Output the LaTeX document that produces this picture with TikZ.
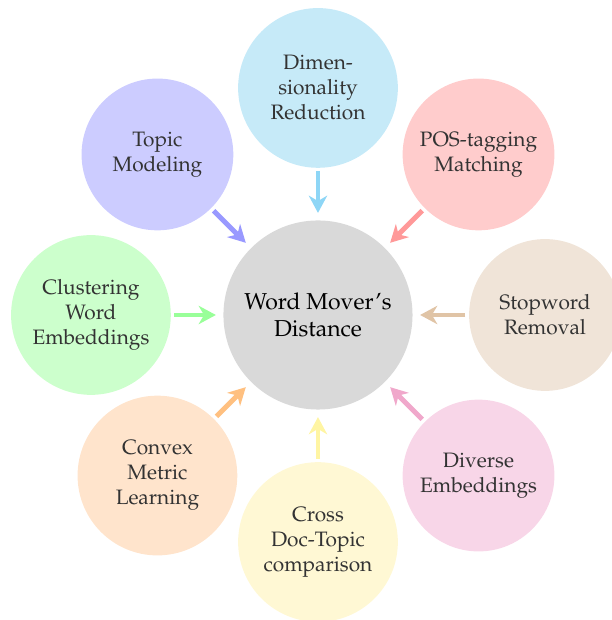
\documentclass[tikz,border=0pt]{standalone}
\usepackage[T1]{fontenc}
\usepackage{mathpazo}
\usetikzlibrary{arrows.meta}
\definecolor{dimfill}{HTML}{C6EAF8}
\definecolor{dimline}{HTML}{8ED6F6}
\definecolor{posfill}{HTML}{FFCCCC}
\definecolor{posline}{HTML}{FF9999}
\definecolor{stopfill}{HTML}{F0E4D8}
\definecolor{stopline}{HTML}{E0C4A6}
\definecolor{divfill}{HTML}{F8D6E8}
\definecolor{divline}{HTML}{F0A8CB}
\definecolor{crossfill}{HTML}{FFF8D4}
\definecolor{crossline}{HTML}{FFF5A3}
\definecolor{convfill}{HTML}{FFE4CC}
\definecolor{convline}{HTML}{FFC080}
\definecolor{clusfill}{HTML}{CCFFCC}
\definecolor{clusline}{HTML}{99FF99}
\definecolor{topfill}{HTML}{CCCCFF}
\definecolor{topline}{HTML}{9999FF}
\begin{document}
\begin{tikzpicture}[
  hub/.style={circle, fill=gray!30, minimum size=3.09cm, inner sep=0pt, align=center, text=black,
    font=\fontsize{10.7}{12.4}\selectfont},
  sat/.style={circle, minimum size=2.61cm, inner sep=0pt, align=center, text=black!80,
    font=\fontsize{9.7}{11.6}\selectfont},
  satsm/.style={sat, minimum size=2.48cm},
  arr/.style={line width=2.3pt, -{Stealth[length=8pt,width=8.5pt,inset=2.5pt]}, shorten <=1.5pt, shorten >=3.3pt}]
\useasboundingbox (-5.196,-4.984) rectangle (4.804,5.147);
% hub
\node [hub] (wmd) at (0,0) {Word Mover's\\Distance};

% satellites
\node [sat, fill=dimfill] (dim) at (90:3.71) {Dimen-\\sionality\\Reduction};
\node [satsm, fill=posfill] (pos) at (45:3.71) {POS-tagging\\Matching};
\node [satsm, fill=stopfill] (stop) at (0:3.71) {Stopword\\Removal};
\node [satsm, fill=divfill] (div) at (-45:3.71) {Diverse\\Embeddings};
\node [sat, fill=crossfill] (cross) at (-90:3.71) {Cross\\Doc-Topic\\comparison};
\node [sat, fill=convfill] (conv) at (-135:3.71) {Convex\\Metric\\Learning};
\node [sat, fill=clusfill] (clus) at (180:3.71) {Clustering\\Word\\Embeddings};
\node [satsm, fill=topfill] (topic) at (135:3.71) {Topic\\Modeling};

% arrows
\draw [arr, dimline] (dim) -- (wmd);
\draw [arr, posline] (pos) -- (wmd);
\draw [arr, stopline] (stop) -- (wmd);
\draw [arr, divline] (div) -- (wmd);
\draw [arr, crossline] (cross) -- (wmd);
\draw [arr, convline] (conv) -- (wmd);
\draw [arr, clusline] (clus) -- (wmd);
\draw [arr, topline] (topic) -- (wmd);
\end{tikzpicture}
\end{document}
